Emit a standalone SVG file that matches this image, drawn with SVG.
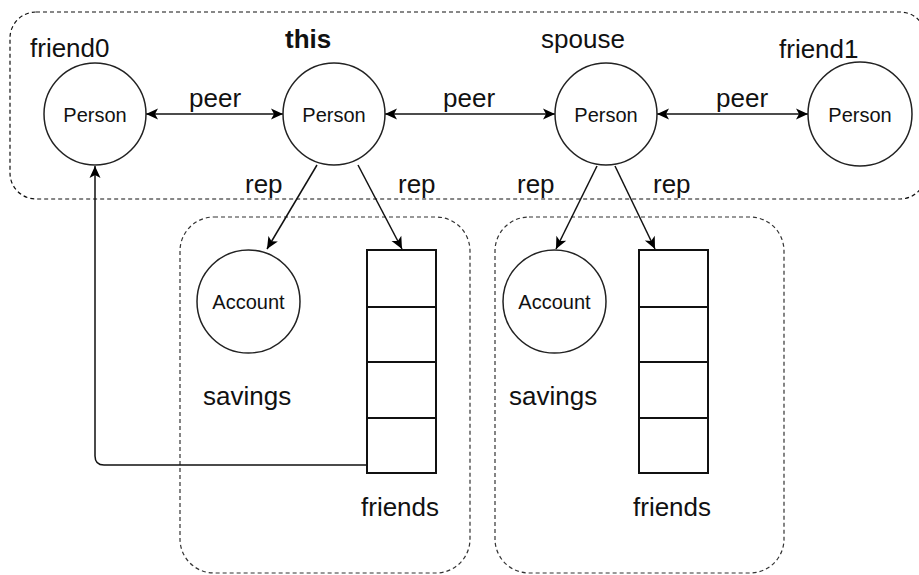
<svg xmlns="http://www.w3.org/2000/svg" width="919" height="575" viewBox="0 0 919 575">
<defs>
<marker id="arr" viewBox="-13 -6 14 12" refX="0" refY="0" markerWidth="14" markerHeight="12" markerUnits="userSpaceOnUse" orient="auto-start-reverse">
<path d="M0,0 L-12,-5.5 L-9,0 L-12,5.5 Z" fill="#000"/>
</marker>
<style>
.outer{fill:none;stroke:#111;stroke-width:1.2;stroke-dasharray:4 3}
.inner{fill:none;stroke:#333;stroke-width:1.2;stroke-dasharray:4 3}
.node{fill:#fff;stroke:#222;stroke-width:1.5}
.arr{fill:#fff;stroke:#111;stroke-width:2}
.edge{fill:none;stroke:#111;stroke-width:1.5}
.lbl{font-family:"Liberation Sans",Arial,sans-serif;font-size:26px;fill:#111}
.in{font-family:"Liberation Sans",Arial,sans-serif;font-size:20px;fill:#111;text-anchor:middle}
.bold{font-weight:bold}
</style>
</defs>
<rect width="919" height="575" fill="#fff"/>
<g id="groups">
<rect class="outer" x="10" y="12" width="916" height="187" rx="26" ry="26"/>
<rect class="inner" x="180" y="217" width="290" height="356" rx="34" ry="34"/>
<rect class="inner" x="495" y="217" width="289" height="356" rx="34" ry="34"/>
</g>
<g id="connectors">
<line class="edge" x1="146" y1="114" x2="283" y2="114" marker-start="url(#arr)" marker-end="url(#arr)"/>
<line class="edge" x1="385" y1="114" x2="555" y2="114" marker-start="url(#arr)" marker-end="url(#arr)"/>
<line class="edge" x1="657" y1="114" x2="808" y2="114" marker-start="url(#arr)" marker-end="url(#arr)"/>
<line class="edge" x1="317" y1="165" x2="267" y2="249" marker-end="url(#arr)"/>
<line class="edge" x1="358" y1="165" x2="402" y2="249" marker-end="url(#arr)"/>
<line class="edge" x1="597" y1="166" x2="556" y2="249" marker-end="url(#arr)"/>
<line class="edge" x1="615" y1="166" x2="655" y2="249" marker-end="url(#arr)"/>
<path class="edge" d="M368,465 L104,465 Q95,465 95,456 L95,166" marker-end="url(#arr)"/>
<text class="lbl" x="189" y="107">peer</text>
<text class="lbl" x="443" y="107">peer</text>
<text class="lbl" x="716" y="107">peer</text>
<text class="lbl" x="245" y="193">rep</text>
<text class="lbl" x="398" y="193">rep</text>
<text class="lbl" x="517" y="193">rep</text>
<text class="lbl" x="653" y="193">rep</text>
</g>
<g id="friend0">
<circle class="node" cx="95" cy="114" r="51"/>
<text class="in" x="95" y="122">Person</text>
<text class="lbl" x="30" y="57">friend0</text>
</g>
<g id="this">
<circle class="node" cx="334" cy="114" r="51"/>
<text class="in" x="334" y="122">Person</text>
<text class="lbl bold" x="285" y="48">this</text>
</g>
<g id="spouse">
<circle class="node" cx="606" cy="114" r="51"/>
<text class="in" x="606" y="122">Person</text>
<text class="lbl" x="541" y="48">spouse</text>
</g>
<g id="friend1">
<circle class="node" cx="860" cy="114" r="52"/>
<text class="in" x="860" y="122">Person</text>
<text class="lbl" x="779" y="58">friend1</text>
</g>
<g id="savings1">
<circle class="node" cx="248.5" cy="301.5" r="51.5"/>
<text class="in" x="248.5" y="309">Account</text>
<text class="lbl" x="203" y="405">savings</text>
</g>
<g id="friends1">
<rect class="arr" x="367" y="250" width="69" height="223"/>
<line class="arr" x1="367" y1="307" x2="436" y2="307"/>
<line class="arr" x1="367" y1="362" x2="436" y2="362"/>
<line class="arr" x1="367" y1="418" x2="436" y2="418"/>
<text class="lbl" x="361" y="516">friends</text>
</g>
<g id="savings2">
<circle class="node" cx="554.5" cy="301.5" r="51.5"/>
<text class="in" x="554.5" y="309">Account</text>
<text class="lbl" x="509" y="405">savings</text>
</g>
<g id="friends2">
<rect class="arr" x="639" y="250" width="69" height="223"/>
<line class="arr" x1="639" y1="307" x2="708" y2="307"/>
<line class="arr" x1="639" y1="362" x2="708" y2="362"/>
<line class="arr" x1="639" y1="418" x2="708" y2="418"/>
<text class="lbl" x="633" y="516">friends</text>
</g>
</svg>
